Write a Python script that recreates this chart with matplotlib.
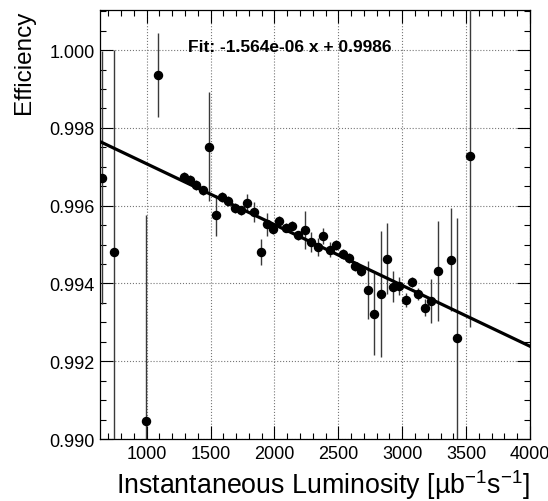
import numpy as np
import matplotlib.pyplot as plt
from matplotlib.ticker import MultipleLocator, FormatStrFormatter

plt.rcParams["font.family"] = ["Liberation Sans", "DejaVu Sans"]
plt.rcParams["mathtext.fontset"] = "custom"
plt.rcParams["mathtext.rm"] = "Liberation Sans"
plt.rcParams["mathtext.it"] = "Liberation Sans:italic"

lumi = [648, 747, 995, 1091, 1294, 1339, 1390, 1441, 1488, 1541, 1588, 1637,
        1689, 1736, 1786, 1843, 1893, 1940, 1988, 2038, 2089, 2139, 2187, 2237,
        2287, 2337, 2383, 2435, 2485, 2535, 2585, 2634, 2681, 2730, 2780, 2830,
        2879, 2931, 2978, 3028, 3079, 3126, 3176, 3228, 3281, 3380, 3427, 3531]
eff = [0.99672, 0.99482, 0.99047, 0.99936, 0.99674, 0.99666, 0.99653, 0.99639,
       0.99751, 0.99575, 0.99622, 0.99612, 0.99594, 0.99588, 0.99606, 0.99584,
       0.99480, 0.99552, 0.99540, 0.99561, 0.99543, 0.99548, 0.99524, 0.99538,
       0.99506, 0.99493, 0.99522, 0.99487, 0.99499, 0.99476, 0.99465, 0.99444,
       0.99432, 0.99383, 0.99321, 0.99374, 0.99464, 0.99392, 0.99394, 0.99357,
       0.99403, 0.99373, 0.99338, 0.99355, 0.99432, 0.99461, 0.99259, 0.99728]
eff_err = [0.00326, 0.00519, 0.00528, 0.00108, 0.00012, 0.00012, 0.00012, 0.00012,
           0.00140, 0.00052, 0.00012, 0.00012, 0.00012, 0.00012, 0.00023, 0.00026,
           0.00033, 0.00030, 0.00012, 0.00012, 0.00012, 0.00012, 0.00012, 0.00049,
           0.00026, 0.00023, 0.00020, 0.00020, 0.00012, 0.00012, 0.00012, 0.00012,
           0.00012, 0.00075, 0.00105, 0.00162, 0.00092, 0.00039, 0.00023, 0.00018,
           0.00013, 0.00016, 0.00023, 0.00057, 0.00128, 0.00133, 0.00310, 0.00440]

slope = -1.564e-06
intercept = 0.99864
fit_range = [635, 4000]

fig = plt.figure(figsize=(5.48, 5.02), dpi=100)
ax = fig.add_axes([0.1825, 0.1235, 0.7847, 0.8546])

ax.errorbar(lumi, eff, yerr=eff_err, fmt="o", color="black", ms=5.8,
            ecolor="#3a3a3a", elinewidth=1.0, capsize=0, zorder=3)

xf = np.linspace(fit_range[0], fit_range[1], 100)
ax.plot(xf, slope * xf + intercept, color="black", lw=2.3, zorder=4)

ax.text(1320, 0.99998, f"Fit: {slope:.3e} x + {intercept:.4f}",
        fontsize=12.5, fontweight="bold", va="baseline", zorder=5)

ax.set_xlim(635, 4000)
ax.set_ylim(0.990, 1.00103)
ax.xaxis.set_major_locator(MultipleLocator(500))
ax.xaxis.set_minor_locator(MultipleLocator(100))
ax.yaxis.set_major_locator(MultipleLocator(0.002))
ax.yaxis.set_minor_locator(MultipleLocator(0.0005))
ax.yaxis.set_major_formatter(FormatStrFormatter("%.3f"))

ax.tick_params(which="both", direction="in", top=True, right=True,
               labelsize=13, width=0.8)
ax.tick_params(which="major", length=9.5, pad=4)
ax.tick_params(which="minor", length=4.5)
ax.grid(True, which="major", ls=":", color="#777777", lw=0.8)

ax.set_xlabel("Instantaneous Luminosity [µb$^{-1}$s$^{-1}$]", fontsize=19.3,
              loc="right", labelpad=4)
ax.set_ylabel("Efficiency", fontsize=17.5, loc="top", labelpad=10)

for s in ax.spines.values():
    s.set_linewidth(0.9)

fig.savefig("out.png", dpi=100)
